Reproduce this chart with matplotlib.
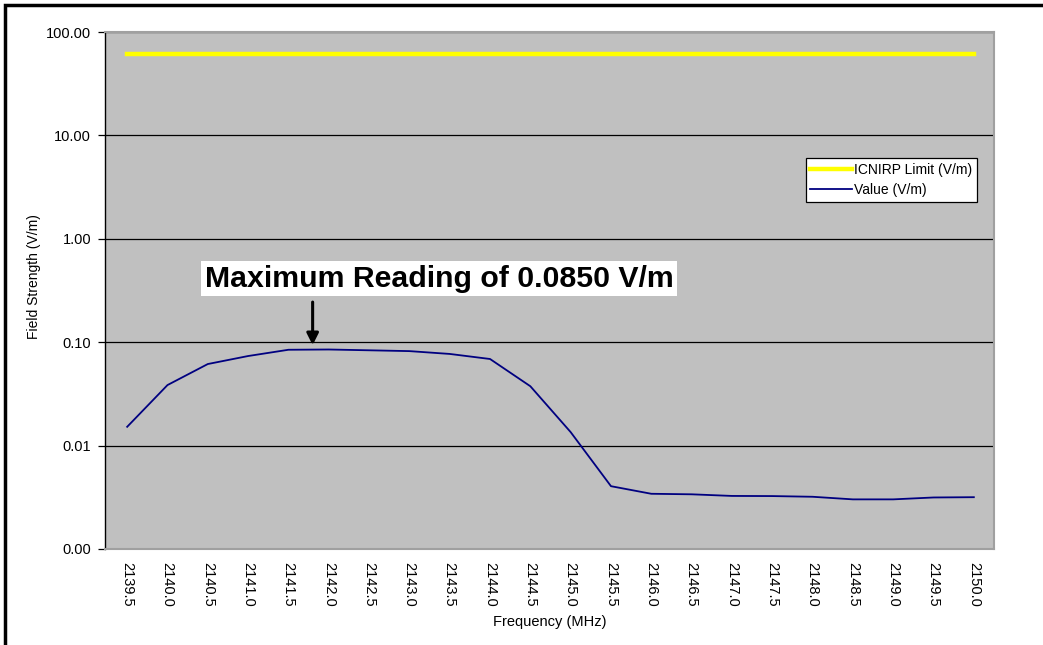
#!/usr/bin/env python3
"""Field strength vs frequency, log scale, Excel-style chart."""

import matplotlib
import numpy as np

matplotlib.use("Agg")
import matplotlib.pyplot as plt
from matplotlib.patches import Rectangle
from matplotlib.ticker import FixedLocator, NullLocator

plt.rcParams["font.family"] = ["Liberation Sans", "DejaVu Sans"]

freqs = ["2139.5", "2140.0", "2140.5", "2141.0", "2141.5", "2142.0", "2142.5",
         "2143.0", "2143.5", "2144.0", "2144.5", "2145.0", "2145.5", "2146.0",
         "2146.5", "2147.0", "2147.5", "2148.0", "2148.5", "2149.0", "2149.5",
         "2150.0"]
value_vm = [0.0152, 0.0385, 0.0615, 0.0735, 0.0845, 0.0850, 0.0835,
            0.0820, 0.0770, 0.0688, 0.0375, 0.0135, 0.00405, 0.00342,
            0.00338, 0.00326, 0.00325, 0.00320, 0.00302, 0.00302, 0.00315,
            0.00317]
icnirp_vm = [61.0] * len(freqs)
y_ticks = [0.001, 0.01, 0.1, 1, 10, 100]
y_tick_labels = ["0.00", "0.01", "0.10", "1.00", "10.00", "100.00"]

x = np.arange(len(freqs))

fig = plt.figure(figsize=(10.43, 6.45), dpi=100)
ax = fig.add_axes([105 / 1043, 1 - 549 / 645, (994 - 105) / 1043, (549 - 32) / 645])
ax.set_facecolor("#c0c0c0")

ax.plot(x, icnirp_vm, color="#ffff00", lw=3.2, label="ICNIRP Limit (V/m)", zorder=3)
ax.plot(x, value_vm, color="#000080", lw=1.3, label="Value (V/m)", zorder=3)

ax.set_yscale("log")
ax.set_ylim(0.001, 100)
ax.set_xlim(-0.55, 21.5)
ax.yaxis.set_major_locator(FixedLocator(y_ticks))
ax.yaxis.set_minor_locator(NullLocator())
ax.set_yticklabels(y_tick_labels, fontsize=10.5)
ax.grid(axis="y", color="black", lw=0.9, zorder=1)
ax.set_axisbelow(True)

ax.set_xticks(x)
ax.set_xticklabels(freqs, rotation=270, fontsize=10.5)
ax.tick_params(axis="x", length=0, pad=9)
ax.tick_params(axis="y", length=5, width=0.9, direction="out", pad=5)

for side in ("top", "right", "bottom"):
    ax.spines[side].set_color("#a0a0a0")
    ax.spines[side].set_linewidth(1.5)
ax.spines["left"].set_color("black")
ax.spines["left"].set_linewidth(1.0)

ax.set_xlabel("Frequency (MHz)", fontsize=10.5, labelpad=6)
ax.set_ylabel("Field Strength (V/m)", fontsize=10)
ax.yaxis.set_label_coords(-0.072, 0.526)

leg = ax.legend(loc="upper right", bbox_to_anchor=(0.981, 0.756), fontsize=10,
                frameon=True, fancybox=False, framealpha=1.0, handlelength=3.0,
                handletextpad=0.15, borderpad=0.35, labelspacing=0.45,
                borderaxespad=0)
leg.get_frame().set_edgecolor("black")
leg.get_frame().set_linewidth(0.9)
leg.get_frame().set_facecolor("white")

ax.annotate("", xy=(4.6, 0.088), xytext=(4.6, 0.26),
            arrowprops=dict(arrowstyle="-|>,head_length=0.7,head_width=0.35",
                        color="black", lw=2.2), zorder=5)
ax.text(0.1125, 0.523, "Maximum Reading of 0.0850 V/m", transform=ax.transAxes,
        fontsize=21.8, fontweight="bold", ha="left", va="center",
        bbox=dict(boxstyle="square,pad=0.12", facecolor="white", edgecolor="none"),
        zorder=6)

fig.patches.append(Rectangle((5 / 1043, -0.1), 1.2, 1 - 5 / 645 + 0.1,
                             transform=fig.transFigure, fill=False,
                             edgecolor="black", lw=2.5))

fig.savefig("out.png", dpi=100)
